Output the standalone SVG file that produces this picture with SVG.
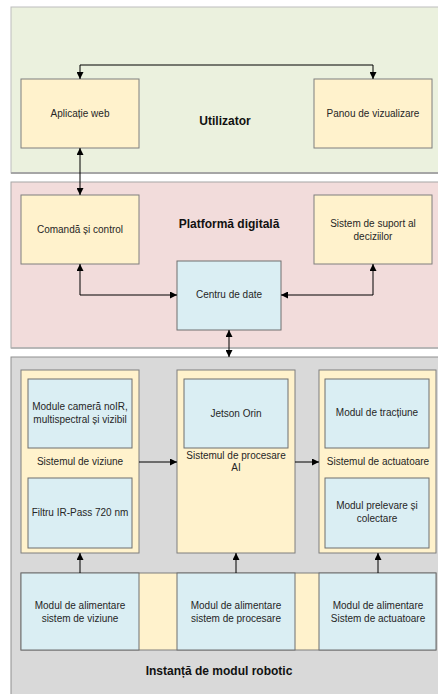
<svg xmlns="http://www.w3.org/2000/svg" width="438" height="694" viewBox="0 0 438 694">
<style>
text{font-family:"Liberation Sans",Arial,sans-serif;font-size:10px;fill:#262626;text-anchor:middle}
.t{font-weight:bold;font-size:12px;fill:#111}
.y{fill:#FFF2CC;stroke:#7f7f7f;stroke-width:1}
.b{fill:#DAEEF3;stroke:#6f6f6f;stroke-width:1}
.c{fill:none;stroke:#000;stroke-width:1}
</style>
<defs>
<marker id="a" viewBox="0 0 10 10" refX="10" refY="5" markerWidth="7" markerHeight="7" orient="auto-start-reverse" markerUnits="userSpaceOnUse"><path d="M0,0L10,5L0,10z" fill="#000"/></marker>
</defs>
<rect width="438" height="694" fill="#fff"/>
<g id="utilizator">
<rect x="11" y="7" width="430" height="166" fill="#EBF1DE" stroke="#bdbdbd"/>
<line x1="11" y1="173" x2="438" y2="173" stroke="#a6a6a6" stroke-width="2"/>
<text class="t" x="225" y="125">Utilizator</text>
</g>
<g id="platforma">
<rect x="11" y="182" width="430" height="166" fill="#F2DCDB" stroke="#a6a6a6"/>
<line x1="11" y1="348" x2="438" y2="348" stroke="#b0b0b0" stroke-width="1.5"/>
<text class="t" x="229" y="228">Platformă digitală</text>
</g>
<g id="instanta">
<rect x="11" y="357" width="430" height="340" fill="#D9D9D9" stroke="#8f8f8f"/>
<text class="t" x="219" y="675">Instanță de modul robotic</text>
</g>
<g id="aplicatie-web"><rect class="y" x="21" y="79" width="118" height="69"/><text x="80" y="117">Aplicație web</text></g>
<g id="panou"><rect class="y" x="314" y="79" width="118" height="69"/><text x="373" y="117">Panou de vizualizare</text></g>
<g id="comanda"><rect class="y" x="21" y="195" width="118" height="69"/><text x="80" y="233">Comandă și control</text></g>
<g id="suport"><rect class="y" x="314" y="195" width="118" height="69"/><text x="373" y="227">Sistem de suport al</text><text x="373" y="240">deciziilor</text></g>
<g id="centru"><rect class="b" x="177" y="261" width="104" height="69"/><text x="229" y="298">Centru de date</text></g>
<rect class="y" x="21" y="573" width="415" height="77"/>
<g id="viziune">
<rect class="y" x="21" y="370" width="118" height="183"/>
<text x="80" y="465">Sistemul de viziune</text>
</g>
<g id="camera"><rect class="b" x="28" y="379" width="104" height="69"/><text x="80" y="410">Module cameră noIR,</text><text x="80" y="423">multispectral și vizibil</text></g>
<g id="filtru"><rect class="b" x="28" y="478" width="104" height="70"/><text x="80" y="516">Filtru IR-Pass 720 nm</text></g>
<g id="procesare">
<rect class="y" x="177" y="370" width="118" height="183"/>
<text x="236" y="459">Sistemul de procesare</text><text x="236" y="471">AI</text>
</g>
<g id="jetson"><rect class="b" x="184" y="379" width="104" height="69"/><text x="236" y="417">Jetson Orin</text></g>
<g id="actuatoare">
<rect class="y" x="319" y="370" width="117" height="183"/>
<text x="378" y="465">Sistemul de actuatoare</text>
</g>
<g id="tractiune"><rect class="b" x="325" y="379" width="104" height="69"/><text x="377" y="416">Modul de tracțiune</text></g>
<g id="prelevare"><rect class="b" x="325" y="478" width="104" height="70"/><text x="377" y="509">Modul prelevare și</text><text x="377" y="522">colectare</text></g>
<g id="alim-viziune"><rect class="b" x="21" y="573" width="118" height="77"/><text x="80" y="609">Modul de alimentare</text><text x="80" y="622">sistem de viziune</text></g>
<g id="alim-procesare"><rect class="b" x="177" y="573" width="118" height="77"/><text x="236" y="609">Modul de alimentare</text><text x="236" y="622">sistem de procesare</text></g>
<g id="alim-actuatoare"><rect class="b" x="319" y="573" width="117" height="77"/><text x="378" y="609">Modul de alimentare</text><text x="378" y="622">Sistem de actuatoare</text></g>
<g id="connectors">
<path class="c" d="M80,79V65H373V79" marker-start="url(#a)" marker-end="url(#a)"/>
<path class="c" d="M80,148V195" marker-start="url(#a)" marker-end="url(#a)"/>
<path class="c" d="M80,264V295H177" marker-start="url(#a)" marker-end="url(#a)"/>
<path class="c" d="M281,295H373V264" marker-start="url(#a)" marker-end="url(#a)"/>
<path class="c" d="M229,330V357" marker-start="url(#a)" marker-end="url(#a)"/>
<path class="c" d="M139,462H177" marker-end="url(#a)"/>
<path class="c" d="M295,462H319" marker-end="url(#a)"/>
<path class="c" d="M80,573V553" marker-end="url(#a)"/>
<path class="c" d="M236,573V553" marker-end="url(#a)"/>
<path class="c" d="M378,573V553" marker-end="url(#a)"/>
</g>
</svg>
